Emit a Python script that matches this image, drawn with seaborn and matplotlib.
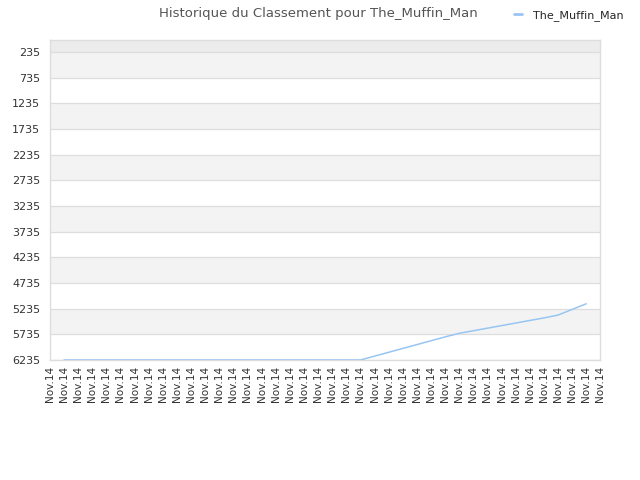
import pandas as pd
import numpy as np
import matplotlib
matplotlib.use("Agg")
import matplotlib.pyplot as plt
import seaborn as sns

# ============================================
# DATA
# ============================================

player = "The_Muffin_Man"
tick_labels = ["Nov.14"] * 40
point_index = list(range(1, 39))
rank_values = [
    6235, 6235, 6235, 6235, 6235, 6235, 6235, 6235, 6235, 6235,
    6235, 6235, 6235, 6235, 6235, 6235, 6235, 6235, 6235, 6235,
    6235, 6235, 6160, 6085, 6010, 5935, 5860, 5785, 5715, 5665,
    5615, 5565, 5515, 5465, 5415, 5360, 5250, 5140,
]
y_ticks = list(range(235, 6236, 500))

df = pd.DataFrame({"idx": point_index, "rank": rank_values, "player": player})

# ============================================
# PLOT
# ============================================

sns.set_style("white")
plt.rcParams['font.family'] = ['DejaVu Sans']

fig = plt.figure(figsize=(6.4, 4.8), dpi=100)
ax = fig.add_axes([0.078, 0.25, 0.86, 0.6667])

# alternating bands
ax.axhspan(0, 235, color="#ececec", zorder=0, lw=0)
for i, start in enumerate(y_ticks[:-1]):
    if i % 2 == 0:
        ax.axhspan(start, start + 500, color="#f3f3f3", zorder=0, lw=0)
for t in y_ticks:
    ax.axhline(t, color="#dddddd", lw=0.9, zorder=1)

sns.lineplot(data=df, x="idx", y="rank", hue="player",
             palette=["#99c5f2"], linewidth=1.1, ax=ax, zorder=3)

ax.set_xlim(0, 39)
ax.set_ylim(6235, 0)
ax.set_yticks(y_ticks)
ax.set_yticklabels([str(t) for t in y_ticks], fontsize=8, color="#333333")
ax.set_xticks(range(40))
ax.set_xticklabels(tick_labels, rotation=90, fontsize=7.5, color="#333333")
ax.tick_params(axis="y", length=0, pad=7)
ax.tick_params(axis="x", length=0, pad=4)
ax.set_xlabel("")
ax.set_ylabel("")

for s in ax.spines.values():
    s.set_color("#dddddd")
    s.set_linewidth(1)

leg = ax.legend(loc="upper right", bbox_to_anchor=(1.06, 1.125), frameon=False,
                fontsize=8, handlelength=0.7, handletextpad=1.0)
for h in leg.get_lines():
    h.set_linewidth(2)

fig.text(0.497, 0.972, "Historique du Classement pour The_Muffin_Man",
         ha="center", va="center", fontsize=9.5, color="#555555")

plt.savefig("out.png", dpi=100)
